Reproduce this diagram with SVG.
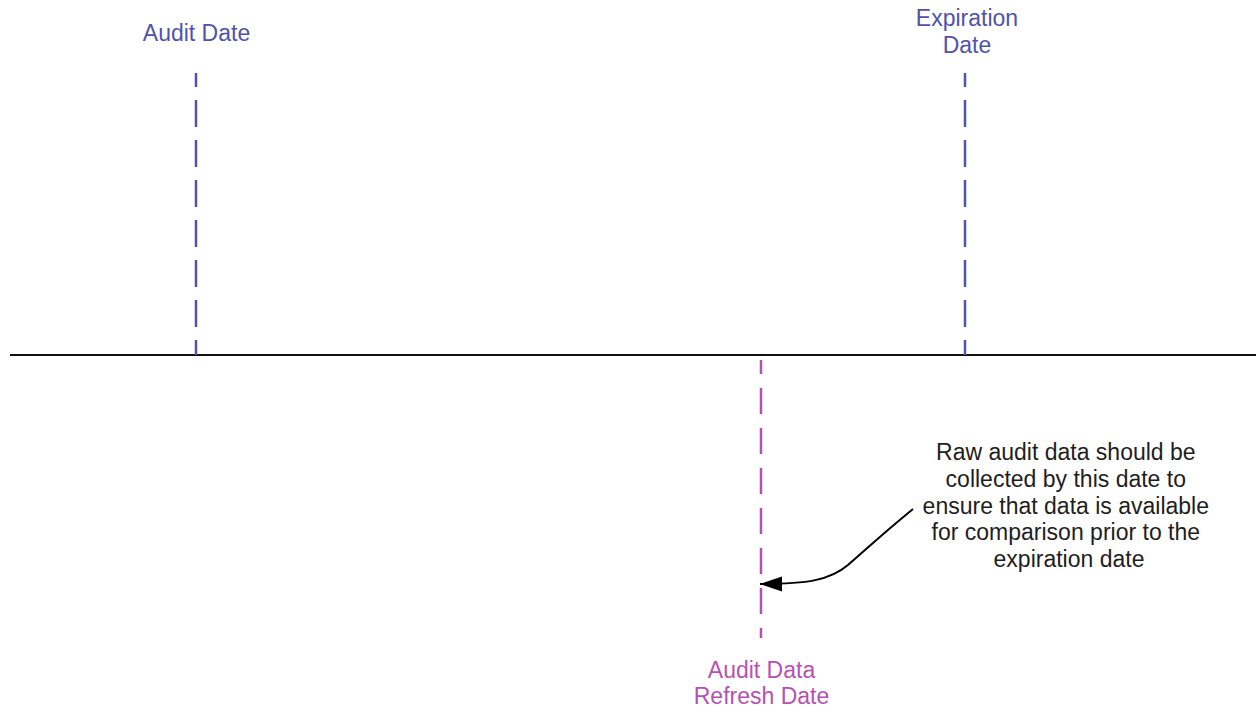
<svg xmlns="http://www.w3.org/2000/svg" width="1256" height="708" viewBox="0 0 1256 708">
  <style>
    text { font-family: "Liberation Sans", Arial, sans-serif; font-size: 23px; text-anchor: middle; }
    .blue { fill: #5252ac; }
    .pink { fill: #b452b4; }
    .note { fill: #1e1e1e; }
    .mark-blue { stroke: #5252ac; stroke-width: 2.5; fill: none; stroke-dasharray: 27 13; stroke-dashoffset: 13; }
    .mark-pink { stroke: #b452b4; stroke-width: 2.5; fill: none; stroke-dasharray: 26 14; stroke-dashoffset: 12; }
  </style>
  <defs>
    <marker id="arrow" markerUnits="userSpaceOnUse" markerWidth="24" markerHeight="16" refX="22" refY="7.5" orient="auto">
      <path d="M0,0 L22,7.5 L0,15 Z" fill="#000"/>
    </marker>
  </defs>
  <rect width="1256" height="708" fill="#fff"/>

  <!-- timeline axis -->
  <g id="timeline">
    <line x1="10" y1="355" x2="1256" y2="355" stroke="#111" stroke-width="2.2"/>
  </g>

  <g id="audit-date">
    <line class="mark-blue" x1="196" y1="73" x2="196" y2="355"/>
    <text class="blue" x="196.5" y="41">Audit Date</text>
  </g>

  <g id="expiration-date">
    <line class="mark-blue" x1="965" y1="73" x2="965" y2="355"/>
    <text class="blue"><tspan x="967" y="26">Expiration</tspan><tspan x="967" y="53">Date</tspan></text>
  </g>

  <g id="refresh-date">
    <line class="mark-pink" x1="761" y1="360" x2="761" y2="638"/>
    <text class="pink"><tspan x="761.5" y="678">Audit Data</tspan><tspan x="761.5" y="704">Refresh Date</tspan></text>
  </g>

  <g id="note">
    <text class="note">
      <tspan x="1069" y="460">Raw audit data should be</tspan>
      <tspan x="1069" y="487">collected by this date to</tspan>
      <tspan x="1069" y="514">ensure that data is available</tspan>
      <tspan x="1069" y="540">for comparison prior to the</tspan>
      <tspan x="1069" y="567">expiration date</tspan>
    </text>
  </g>

  <g id="connectors">
    <path d="M913,509 C880,536 862,553 848,565 C830,580 808,584 760,584" fill="none" stroke="#000" stroke-width="2" marker-end="url(#arrow)"/>
  </g>
</svg>
